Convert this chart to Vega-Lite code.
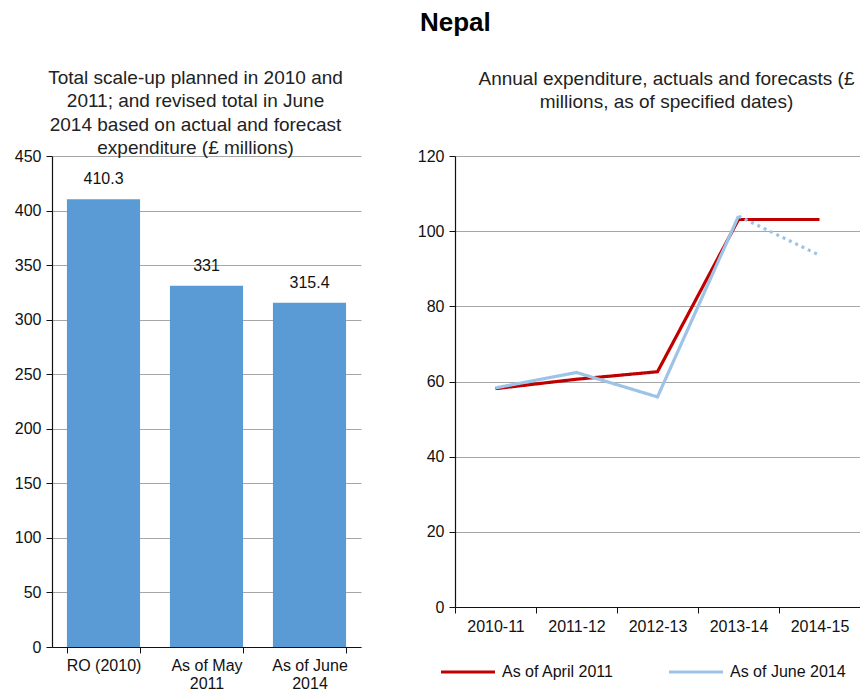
{
  "$schema": "https://vega.github.io/schema/vega-lite/v6.json",
  "background": "white",
  "padding": {"left": 14, "top": 9, "right": 0, "bottom": 0},
  "config": {
    "font": "Liberation Sans",
    "view": {"stroke": null},
    "axis": {
      "labelFont": "Liberation Sans",
      "labelFontSize": 16,
      "labelColor": "#111111",
      "domainColor": "#111111",
      "domainWidth": 1.2,
      "tickColor": "#111111",
      "tickSize": 6,
      "gridColor": "#a6a6a6",
      "gridWidth": 1.2,
      "title": null
    },
    "title": {"font": "Liberation Sans"},
    "legend": {"labelFont": "Liberation Sans"}
  },
  "resolve": {"legend": {"color": "independent", "strokeDash": "independent"}, "scale": {"color": "independent"}},
  "title": {
    "text": "Nepal",
    "fontSize": 26,
    "fontWeight": "bold",
    "color": "#000000",
    "anchor": "middle",
    "dx": 18,
    "offset": 33
  },
  "datasets": {
    "totals": [
      {"stage": "RO (2010)", "value": 410.3},
      {"stage": "As of May 2011", "value": 331},
      {"stage": "As of June 2014", "value": 315.4}
    ],
    "annual": [
      {"series": "As of April 2011", "year": "2010-11", "value": 58.1, "segment": "April actual"},
      {"series": "As of April 2011", "year": "2011-12", "value": 60.6, "segment": "April actual"},
      {"series": "As of April 2011", "year": "2012-13", "value": 62.6, "segment": "April actual"},
      {"series": "As of April 2011", "year": "2013-14", "value": 103.1, "segment": "April actual"},
      {"series": "As of April 2011", "year": "2014-15", "value": 103.1, "segment": "April actual"},
      {"series": "As of June 2014", "year": "2010-11", "value": 58.3, "segment": "June actual"},
      {"series": "As of June 2014", "year": "2011-12", "value": 62.4, "segment": "June actual"},
      {"series": "As of June 2014", "year": "2012-13", "value": 55.9, "segment": "June actual"},
      {"series": "As of June 2014", "year": "2013-14", "value": 104.0, "segment": "June actual"},
      {"series": "As of June 2014", "year": "2013-14", "value": 104.0, "segment": "June forecast"},
      {"series": "As of June 2014", "year": "2014-15", "value": 93.6, "segment": "June forecast"}
    ]
  },
  "spacing": 56,
  "hconcat": [
    {
      "width": 309,
      "height": 491,
      "title": {
        "text": ["Total scale-up planned in 2010 and", "2011; and revised total in June", "2014 based on actual and forecast", "expenditure  (£ millions)"],
        "fontSize": 19,
        "fontWeight": "normal",
        "color": "#222222",
        "lineHeight": 23.5,
        "anchor": "middle",
        "dx": -11,
        "offset": -10
      },
      "data": {"name": "totals"},
      "encoding": {
        "x": {
          "field": "stage",
          "type": "nominal",
          "sort": null,
          "scale": {"paddingInner": 0.29, "paddingOuter": 0.145},
          "axis": {
            "labelAngle": 0,
            "tickBand": "extent",
            "labelPadding": 4,
            "labelLineHeight": 18,
            "labelExpr": "datum.label == 'RO (2010)' ? datum.label : [slice(datum.label, 0, -5), slice(datum.label, -4)]"
          }
        },
        "y": {
          "field": "value",
          "type": "quantitative",
          "scale": {"domain": [0, 450]},
          "axis": {"values": [0, 50, 100, 150, 200, 250, 300, 350, 400, 450], "labelPadding": 5}
        }
      },
      "layer": [
        {"mark": {"type": "bar", "color": "#5b9bd5"}},
        {
          "mark": {"type": "text", "baseline": "bottom", "dy": -12, "fontSize": 16, "color": "#111111"},
          "encoding": {"text": {"field": "value", "type": "quantitative"}}
        }
      ]
    },
    {
      "width": 405,
      "height": 451,
      "title": {
        "text": ["Annual expenditure,  actuals and forecasts (£", "millions, as of specified dates)"],
        "fontSize": 19,
        "fontWeight": "normal",
        "color": "#222222",
        "lineHeight": 23.5,
        "anchor": "middle",
        "dx": 9,
        "offset": 36
      },
      "data": {"name": "annual"},
      "mark": {"type": "line", "strokeWidth": 3.2},
      "encoding": {
        "x": {
          "field": "year",
          "type": "ordinal",
          "bandPosition": 0.5,
          "scale": {"type": "band", "paddingInner": 0, "paddingOuter": 0},
          "axis": {"labelAngle": 0, "tickBand": "extent", "labelPadding": 5, "grid": false}
        },
        "y": {
          "field": "value",
          "type": "quantitative",
          "scale": {"domain": [0, 120]},
          "axis": {"values": [0, 20, 40, 60, 80, 100, 120], "labelPadding": 5}
        },
        "color": {
          "field": "series",
          "type": "nominal",
          "scale": {"domain": ["As of April 2011", "As of June 2014"], "range": ["#c00000", "#9dc3e6"]},
          "legend": {
            "orient": "none",
            "legendX": -16,
            "legendY": 487,
            "direction": "horizontal",
            "title": null,
            "symbolType": "stroke",
            "symbolSize": 2916,
            "symbolStrokeWidth": 3.2,
            "labelFontSize": 16,
            "labelColor": "#111111",
            "labelLimit": 300,
            "labelOffset": 5,
            "columnPadding": 48
          }
        },
        "detail": {"field": "segment"},
        "strokeDash": {
          "field": "segment",
          "type": "nominal",
          "scale": {"domain": ["April actual", "June actual", "June forecast"], "range": [[1, 0], [1, 0], [3, 4]]},
          "legend": null
        }
      }
    }
  ]
}
